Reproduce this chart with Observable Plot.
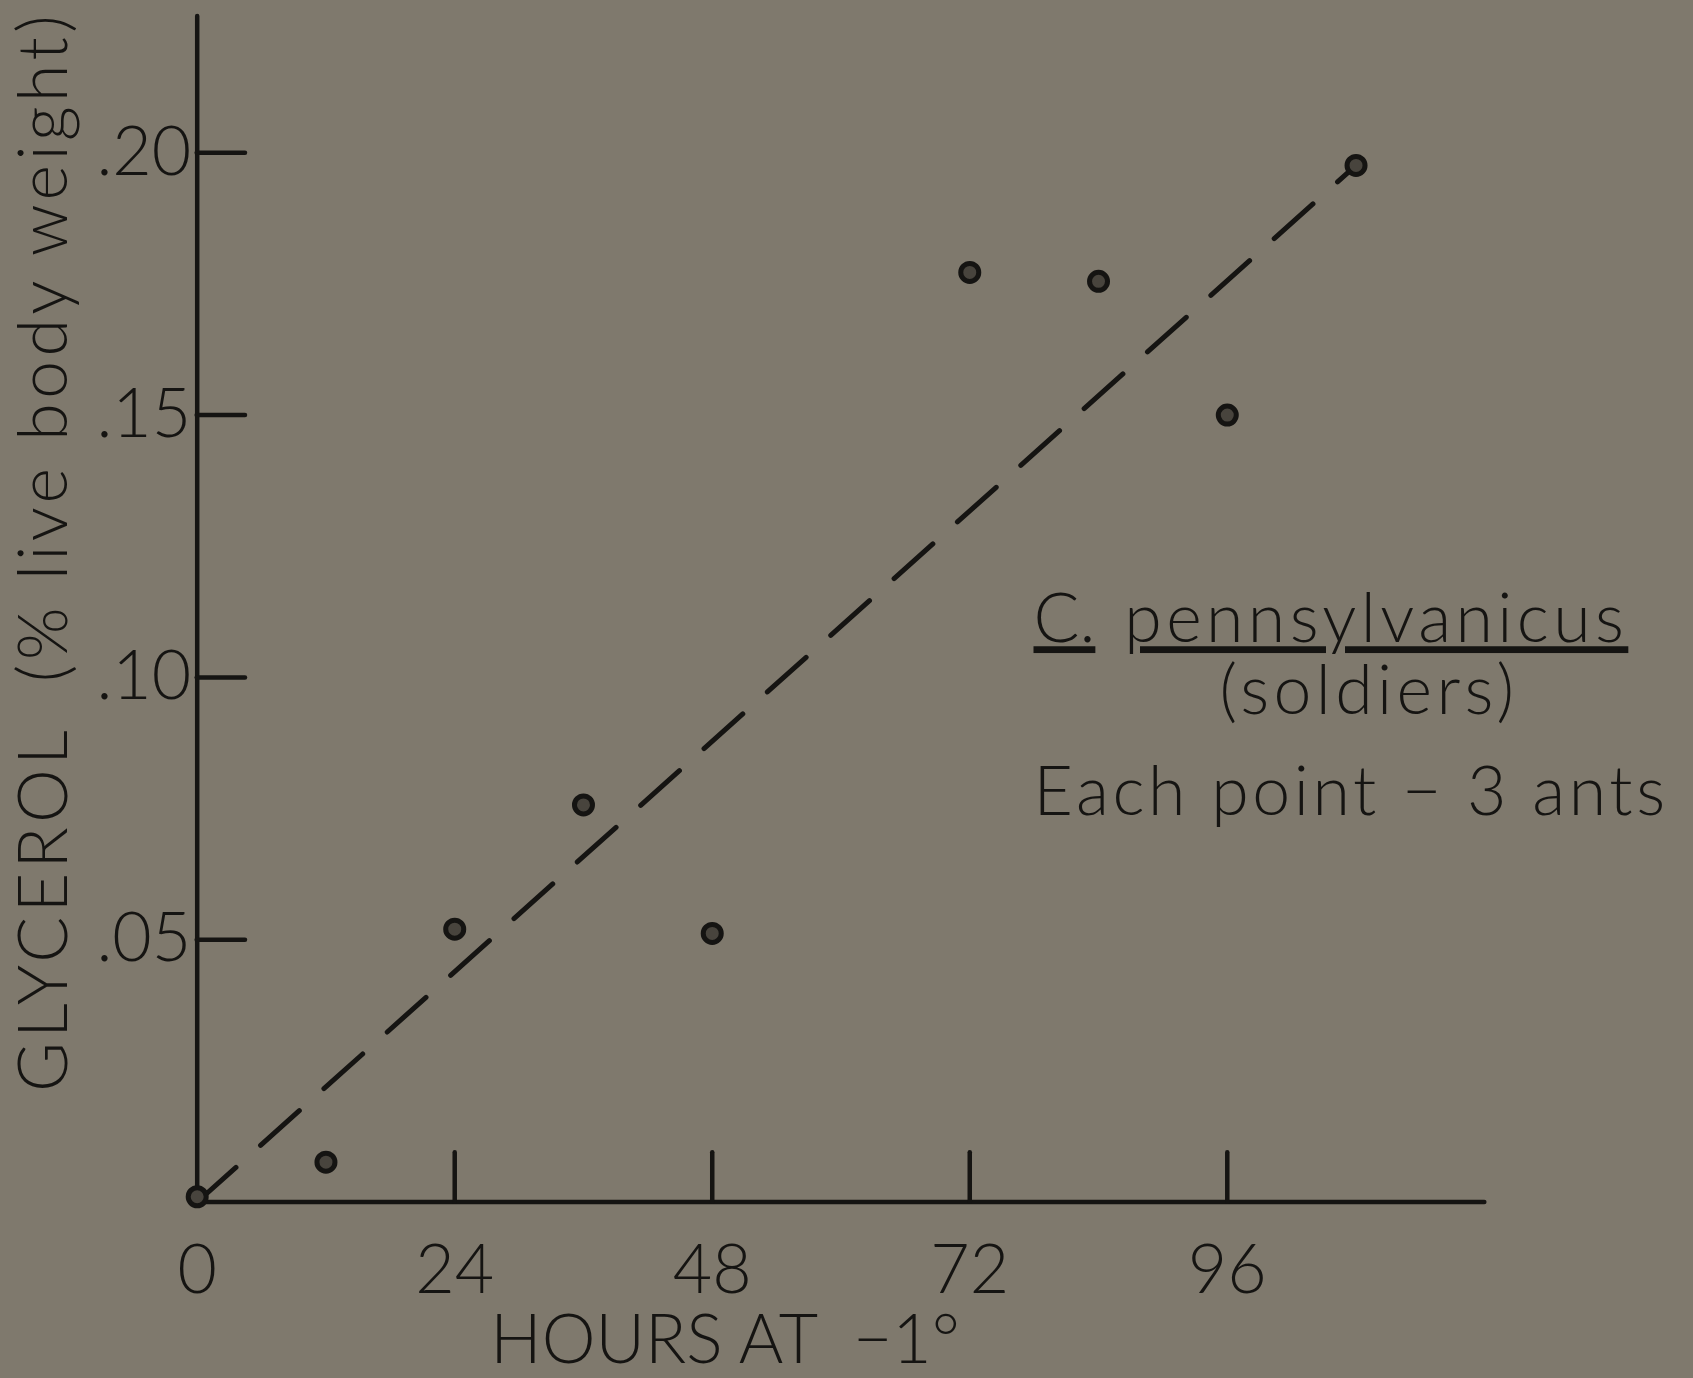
<!DOCTYPE html>
<html>
<head>
<meta charset="utf-8">
<script src="https://cdn.jsdelivr.net/npm/d3@7"></script>
<script src="https://cdn.jsdelivr.net/npm/@observablehq/plot@0.6"></script>
<style>
  html, body { margin: 0; padding: 0; background: #7f796d; }
  #chart { width: 1693px; height: 1378px; }
  svg text { white-space: pre; }
</style>
</head>
<body>
<div id="chart"></div>
<script>
// ---- data ----
const hours    = [0, 12, 24, 36, 48, 72, 84, 96, 108];
const glycerol = [0.001, 0.0076, 0.052, 0.0757, 0.0512, 0.1772, 0.1755, 0.150, 0.1976];
const fitHours    = [0, 108];
const fitGlycerol = [0, 0.1976];
const xTicks = [0, 24, 48, 72, 96];
const yTicks = [0.05, 0.10, 0.15, 0.20];
const xLabel = "HOURS AT\u00a0\u00a0\u22121\u00b0";
const yLabel = "GLYCEROL\u00a0\u00a0(% live body weight)";
const noteLines = ["C.", "pennsylvanicus", "(soldiers)", "Each point \u2212 3 ants"];

// ---- layout / style ----
const ink = "#151412";
const bg = "#7f796d";
const font = "Lato, Roboto, 'Open Sans', 'Liberation Sans', sans-serif";
const fs = 68;
const noteX = [77.94, 86.4, 109.2, 77.94];
const noteY = [0.1067, 0.1067, 0.0930, 0.0737];

const points = hours.map((h, i) => ({h, g: glycerol[i]}));
const fit = fitHours.map((h, i) => ({h, g: fitGlycerol[i]}));
const notes = noteLines.map((t, i) => ({t, x: noteX[i], y: noteY[i]}));
const notesStart = notes.filter((d, i) => i !== 2);
const notesMiddle = notes.filter((d, i) => i === 2);

const chart = Plot.plot({
  width: 1693,
  height: 1378,
  marginLeft: 196.7,
  marginRight: 208.7,
  marginTop: 15.9,
  marginBottom: 176.5,
  style: {background: bg, fontFamily: font, fontWeight: 300, overflow: "visible", color: ink},
  x: {domain: [0, 120]},
  y: {domain: [0, 0.226]},
  marks: [
    Plot.ruleX([0], {y1: 0, y2: 0.226, stroke: ink, strokeWidth: 4.5, strokeLinecap: "round"}),
    Plot.ruleY([0], {x1: 0, x2: 120, stroke: ink, strokeWidth: 4.5, strokeLinecap: "round"}),
    Plot.ruleY(yTicks, {y: d => d, x1: 0, x2: 4.5, stroke: ink, strokeWidth: 4.5, strokeLinecap: "round"}),
    Plot.ruleX(xTicks.slice(1), {x: d => d, y1: 0, y2: 0.0094, stroke: ink, strokeWidth: 4.5, strokeLinecap: "round"}),
    Plot.axisX(xTicks, {tickSize: 0, tickPadding: 43, fontSize: fs, color: ink, label: null}),
    Plot.axisY(yTicks, {tickSize: 0, tickPadding: 6, fontSize: fs, color: ink, label: null,
      tickFormat: d => d.toFixed(2).slice(1)}),
    Plot.line(fit, {x: "h", y: "g", stroke: ink, strokeWidth: 5, strokeDasharray: "52,33", strokeLinecap: "round"}),
    Plot.dot(points, {x: "h", y: "g", r: 9, fill: "#48443d", stroke: ink, strokeWidth: 5}),
    Plot.text([xLabel], {x: 49.2, frameAnchor: "bottom", dy: 161, lineAnchor: "bottom", fontSize: fs, fill: ink}),
    Plot.text([yLabel], {frameAnchor: "left", y: 0.124, dx: -130, rotate: -90, lineAnchor: "bottom", textAnchor: "middle", fontSize: fs, fill: ink}),
    Plot.text(notesStart, {x: "x", y: "y", text: "t", textAnchor: "start", lineAnchor: "bottom", fontSize: fs, fill: ink}),
    Plot.text(notesMiddle, {x: "x", y: "y", text: "t", textAnchor: "middle", lineAnchor: "bottom", fontSize: fs, fill: ink})
  ]
});

const sel = d3.select(chart).selectAll("text");
sel.filter(function() { return noteLines.includes(this.textContent) || this.textContent === yLabel; })
  .style("letter-spacing", "4.4px");
sel.filter(function() { return this.textContent === noteLines[3]; })
  .style("letter-spacing", "3.6px");
sel.filter(function() { return this.textContent === "C." || this.textContent === "pennsylvanicus"; })
  .style("text-decoration", "underline")
  .style("text-decoration-skip-ink", "none")
  .style("text-decoration-thickness", "3px")
  .style("text-underline-offset", "4px");
sel.filter(function() { return this.textContent === "C."; })
  .style("letter-spacing", "0px");

document.getElementById("chart").appendChild(chart);
</script>
</body>
</html>
